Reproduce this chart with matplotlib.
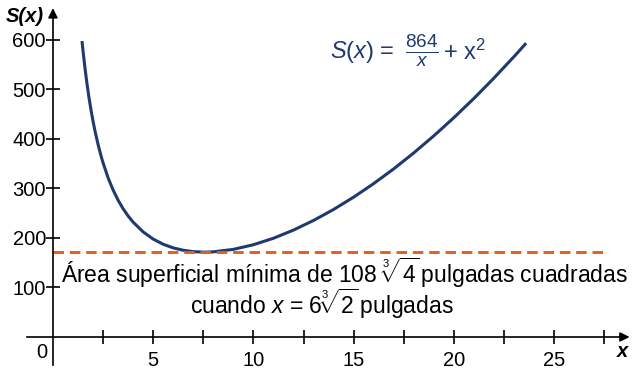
import matplotlib
matplotlib.use('Agg')
import matplotlib.pyplot as plt

plt.rcParams['font.family'] = ['Liberation Sans', 'DejaVu Sans']
plt.rcParams['mathtext.fontset'] = 'custom'
plt.rcParams['mathtext.rm'] = 'Liberation Sans'
plt.rcParams['mathtext.it'] = 'Liberation Sans:italic'
plt.rcParams['mathtext.bf'] = 'Liberation Sans:bold'

# S(x)
x_vals = [1.45, 1.5, 1.6, 1.7, 1.8, 1.9, 2.0, 2.1, 2.25, 2.4, 2.5, 2.75, 3.0, 3.25,
          3.5, 3.75, 4.0, 4.5, 5.0, 5.5, 6.0, 6.5, 7.0, 7.56, 8.0, 9.0, 10.0, 11.0,
          12.0, 13.0, 14.0, 15.0, 16.0, 17.0, 18.0, 19.0, 20.0, 21.0, 22.0, 23.0, 23.6]
s_vals = [598.0, 578.3, 542.6, 511.1, 483.2, 458.3, 436.0, 415.8, 389.1, 365.8,
          351.9, 321.7, 297.0, 276.4, 259.1, 244.5, 232.0, 212.3, 197.8, 187.3,
          180.0, 175.2, 172.4, 171.4, 172.0, 177.0, 186.4, 199.5, 216.0, 235.5,
          257.7, 282.6, 310.0, 339.8, 372.0, 406.5, 443.2, 482.1, 523.3, 566.6, 593.6]
min_area = 171.4
y_ticks = [100, 200, 300, 400, 500, 600]
x_ticks = [5, 10, 15, 20, 25]
x_minor = [2.5, 7.5, 12.5, 17.5, 22.5, 27.5]

navy = '#1f3a6f'
orange = '#e0601e'

fig = plt.figure(figsize=(6.37, 3.75), dpi=100)
ax = fig.add_axes([0, 0, 1, 1])
ax.set_xlim(-2.64, 29.13)
ax.set_ylim(-76.8, 680.8)

ax.plot(x_vals, s_vals, color=navy, lw=2.2, solid_capstyle='butt')
ax.plot([0, 27.5], [min_area, min_area], color=orange, lw=2.1, dashes=(3.6, 2.0))

for sp in ['top', 'right']:
    ax.spines[sp].set_visible(False)
ax.spines['left'].set_position(('data', 0))
ax.spines['bottom'].set_position(('data', 0))
ax.spines['left'].set_bounds(-57, 650)
ax.spines['bottom'].set_bounds(-1.3, 28)
ax.spines['left'].set_linewidth(1.2)
ax.spines['bottom'].set_linewidth(1.2)

ax.set_yticks(y_ticks)
ax.set_xticks(x_ticks)
ax.set_xticks(x_minor, minor=True)
ax.tick_params(axis='both', which='both', direction='inout', length=10, width=1.2,
               labelsize=14.5, color='black')
ax.tick_params(axis='y', pad=0)
ax.tick_params(axis='x', pad=5)

# arrow heads
ax.annotate('', xy=(28.9, 0), xytext=(27.9, 0),
            arrowprops=dict(arrowstyle='-|>', color='black', lw=1.2, mutation_scale=14))
ax.annotate('', xy=(0, 670), xytext=(0, 640),
            arrowprops=dict(arrowstyle='-|>', color='black', lw=1.2, mutation_scale=14))

ax.text(-0.55, -32, '0', fontsize=14.5, ha='center', va='center')
ax.text(-1.4, 648, 'S(x)', fontsize=14.5, ha='center', va='center', fontweight='bold',
        style='italic')
ax.text(28.4, -30, 'x', fontsize=14.5, ha='center', va='center', fontweight='bold',
        style='italic')

# formula label, built in three pieces so the fraction can be sized on its own
fy = 1 - 52 / 375
ax.text(330 / 637, fy, r'$\mathit{S}(\mathit{x})$ =', fontsize=17, color=navy,
        ha='left', va='center', transform=ax.transAxes)
ax.text(422 / 637, fy + 0.003, r'$\frac{864}{\mathit{x}}$', fontsize=19.5, color=navy,
        ha='center', va='center', transform=ax.transAxes)
ax.text(443 / 637, fy, r'+ x$^2$', fontsize=17, color=navy,
        ha='left', va='center', transform=ax.transAxes)

ax.text(14.56, 130, r'Área superficial mínima de 108$\ \sqrt[3]{4}\,$pulgadas cuadradas',
        fontsize=16.5, ha='center', va='center')
ax.text(13.4, 67, r'cuando $\mathit{x}$ = 6$\sqrt[3]{2}\,$pulgadas',
        fontsize=16.5, ha='center', va='center')

fig.savefig('out.png', dpi=100)
